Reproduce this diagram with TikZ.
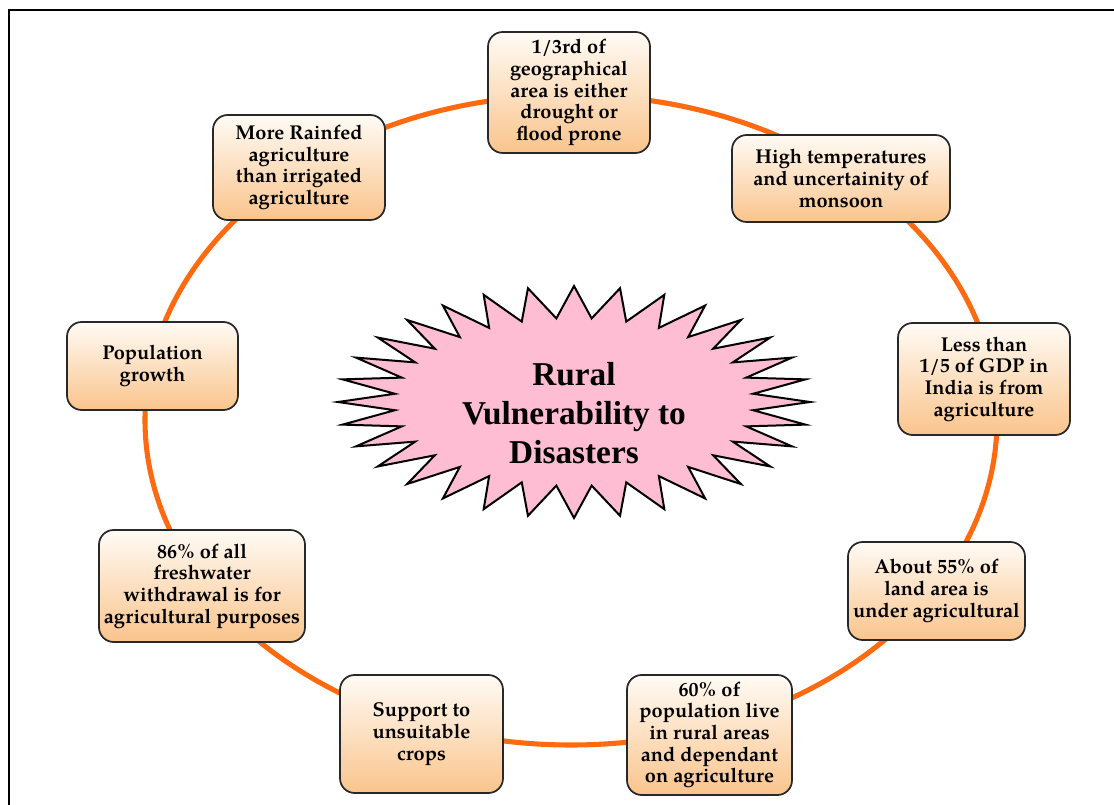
\documentclass[tikz,border=0pt]{standalone}
\usepackage{fontspec}
\setmainfont{TeX Gyre Pagella}
\newfontfamily\hubfont{Liberation Serif}
\usetikzlibrary{shapes.misc}

\definecolor{ringorange}{RGB}{255,105,15}
\definecolor{starpink}{RGB}{255,189,211}
\definecolor{boxtop}{RGB}{255,251,245}
\definecolor{boxbottom}{RGB}{250,196,140}
\definecolor{boxline}{RGB}{40,40,40}

\tikzset{
  infobox/.style={
    draw=boxline, line width=1.3pt, rounded corners=11pt,
    top color=boxtop, bottom color=boxbottom,
    inner sep=0pt, align=center,
    font=\fontsize{15}{16.25}\selectfont\bfseries
  },
  ring/.style={draw=ringorange, line width=3.8pt},
  burst/.style={draw=black, fill=starpink, line width=1.5pt, line join=miter},
  frameline/.style={draw=black, line width=2.2pt}
}

\begin{document}
\begin{tikzpicture}[x=0.75pt, y=-0.75pt]
  % canvas
  \useasboundingbox (0,0) rectangle (1114,805);
  \coordinate (fA) at (1114,10);
  \coordinate (fB) at (9,10);
  \coordinate (fC) at (9,805);
  \draw[frameline] (fA) -- (fB) -- (fC);

  % orange ring
  \coordinate (ringc) at (571,420);
  \draw[ring] (ringc) ellipse [x radius=426, y radius=325];

  % central burst
  \draw[burst] plot[samples at={0,...,63}]
    ({574+(208+28*cos(180*\x))*cos(\x*5.625)},
     {402+(100+16*cos(180*\x))*sin(\x*5.625)}) -- cycle;
  \node (hub) at (574,413) [align=center,
      font=\hubfont\fontsize{25}{29}\selectfont\bfseries]
      {Rural\\Vulnerability to\\Disasters};

  % surrounding boxes
  \node[infobox, minimum width=121.5pt, minimum height=90.75pt] (b1) at (569,92.5)
    {1/3rd of\\geographical\\area is either\\drought or\\flood prone};
  \node[infobox, minimum width=163.5pt, minimum height=65.25pt] (b2) at (841,178.5)
    {High temperatures\\and uncertainity of\\monsoon};
  \node[infobox, minimum width=129pt, minimum height=84pt] (b3) at (984,379)
    {Less than\\1/5 of GDP in\\India is from\\agriculture};
  \node[infobox, minimum width=132.75pt, minimum height=73.5pt] (b4) at (936.5,591)
    {About 55\% of\\land area is\\under agricultural};
  \node[infobox, minimum width=123.75pt, minimum height=90pt] (b5) at (709.5,735)
    {60\% of\\population live\\in rural areas\\and dependant\\on agriculture};
  \node[infobox, minimum width=122.25pt, minimum height=88.5pt] (b6) at (421.5,734)
    {Support to\\unsuitable\\crops};
  \node[infobox, minimum width=154.5pt, minimum height=84pt] (b7) at (202,586)
    {86\% of all\\freshwater\\withdrawal is for\\agricultural purposes};
  \node[infobox, minimum width=128.25pt, minimum height=66pt] (b8) at (152.5,366)
    {Population\\growth};
  \node[infobox, minimum width=129pt, minimum height=78.75pt] (b9) at (299,167.5)
    {More Rainfed\\agriculture\\than irrigated\\agriculture};
\end{tikzpicture}
\end{document}
